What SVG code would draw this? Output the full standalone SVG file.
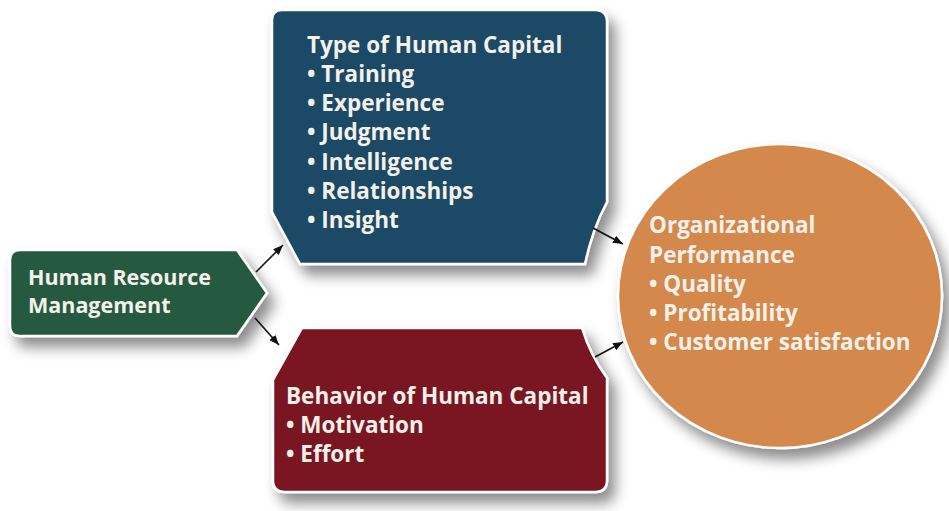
<svg xmlns="http://www.w3.org/2000/svg" width="949" height="511" viewBox="0 0 949 511">
<defs>
<filter id="sh" x="-20%" y="-20%" width="150%" height="150%">
<feDropShadow dx="7" dy="10" stdDeviation="7" flood-color="#000" flood-opacity="0.45"/>
</filter>
<marker id="ah" viewBox="0 0 10 8" refX="10" refY="4" markerWidth="10" markerHeight="8" markerUnits="userSpaceOnUse" orient="auto">
<path d="M0,0 L10,4 L0,8 Z" fill="#111"/>
</marker>
<style>
.t{font-family:"Open Sans","Liberation Sans",sans-serif;font-weight:bold;font-size:22.5px;fill:#f4f1ea}
.g{font-size:21.5px}
.shape{stroke:#fff;stroke-width:2.5;filter:url(#sh)}
.con{stroke:#111;stroke-width:1.6;fill:none;marker-end:url(#ah)}
</style>
</defs>
<rect width="949" height="511" fill="#fff"/>
<g id="hrm">
<path class="shape" fill="#265a3f" d="M20,250 L237,250 L267,293 L237,336 L20,336 Q10,336 10,326 L10,260 Q10,250 20,250 Z"/>
<text class="t g" x="28" y="285">Human Resource</text>
<text class="t g" x="28" y="313">Management</text>
</g>
<g id="type">
<path class="shape" fill="#1b4a66" d="M282,10 L595,10 Q607,10 607,22 L607,202 Q592,230 585,264 L300,264 L272,212 L272,20 Q272,10 282,10 Z"/>
<text class="t" x="307" y="53">Type of Human Capital</text>
<text class="t" x="307" y="82">• Training</text>
<text class="t" x="307" y="111">• Experience</text>
<text class="t" x="307" y="140">• Judgment</text>
<text class="t" x="307" y="170">• Intelligence</text>
<text class="t" x="307" y="199">• Relationships</text>
<text class="t" x="307" y="228">• Insight</text>
</g>
<g id="behavior">
<path class="shape" fill="#7a1320" d="M302,328 L582,328 Q590,355 607,378 L607,480 Q607,492 595,492 L285,492 Q273,492 273,480 L273,380 Z"/>
<text class="t" x="286" y="404">Behavior of Human Capital</text>
<text class="t" x="286" y="433">• Motivation</text>
<text class="t" x="286" y="462">• Effort</text>
</g>
<g id="performance">
<ellipse class="shape" fill="#d4884c" cx="780" cy="296" rx="162" ry="152"/>
<text class="t" x="649" y="233">Organizational</text>
<text class="t" x="649" y="263">Performance</text>
<text class="t" x="649" y="292">• Quality</text>
<text class="t" x="649" y="321">• Profitability</text>
<text class="t" x="649" y="350">• Customer satisfaction</text>
</g>
<g id="connectors">
<line class="con" x1="256" y1="272" x2="283" y2="245"/>
<line class="con" x1="255" y1="318" x2="279" y2="345"/>
<line class="con" x1="593" y1="228" x2="623" y2="244"/>
<line class="con" x1="595" y1="357" x2="623" y2="342"/>
</g>
</svg>
